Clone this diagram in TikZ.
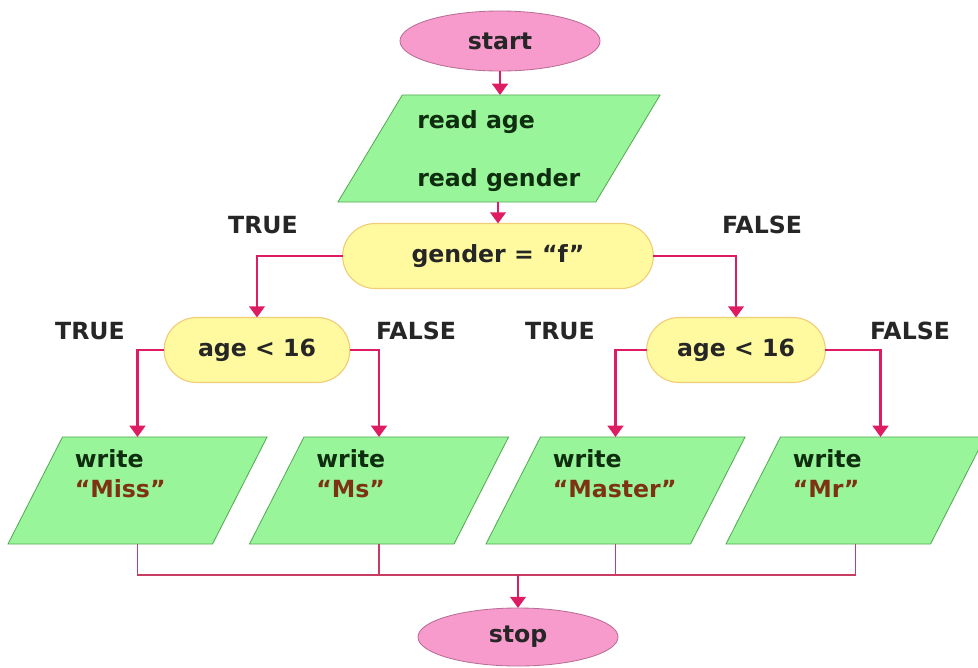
\documentclass[tikz,border=0pt]{standalone}
\usepackage{fontspec}
\setmainfont{DejaVu Sans}
\usetikzlibrary{arrows.meta,shapes.geometric,shapes.misc}

\definecolor{termfill}{RGB}{247,154,204}
\definecolor{termdraw}{RGB}{185,110,150}
\definecolor{iofill}{RGB}{153,245,153}
\definecolor{iodraw}{RGB}{85,170,85}
\definecolor{decfill}{RGB}{255,250,160}
\definecolor{decdraw}{RGB}{240,205,120}
\definecolor{flowcol}{RGB}{222,28,100}
\definecolor{joincol}{RGB}{200,60,100}
\definecolor{iotext}{RGB}{15,45,15}
\definecolor{strtext}{RGB}{125,50,20}

\tikzset{
  fc/.style={font=\fontsize{16.8}{21}\selectfont\bfseries},
  terminal/.style={ellipse,draw=termdraw,fill=termfill,line width=0.6pt,
    minimum width=5cm,minimum height=1.5cm,outer sep=0pt,fc,text=black!85},
  iobox/.style={trapezium,trapezium left angle=63,trapezium right angle=117,
    trapezium stretches body,draw=iodraw,fill=iofill,line width=0.6pt,
    inner ysep=1.3375cm,minimum width=6.475cm,outer sep=0pt},
  decision/.style={rounded rectangle,draw=decdraw,fill=decfill,line width=0.8pt,
    minimum height=1.625cm,outer sep=0pt,fc,text=black!85},
  iotxt/.style={anchor=north west,inner sep=0pt,align=left,fc,text=iotext},
  lbl/.style={fc,text=black!85},
  flow/.style={draw=flowcol,line width=2pt,-{Triangle[width=11pt,length=8pt]}},
  mergeline/.style={draw=joincol,line width=1pt},
}

\begin{document}
\begin{tikzpicture}[x=0.025cm,y=-0.025cm]
  \useasboundingbox (0,0) rectangle (978,667);

  \node[terminal] (start) at (500,41) {start};
  \node[iobox,trapezium left angle=59,trapezium right angle=121,
    minimum width=8.05cm] (read) at (499,148.5) {};
  \node[iotxt] (readTxt) at ([shift={(-82,-38)}]read.center) {read age\\[20pt]read gender};

  \node[decision,minimum width=8cm] (gender) at (498,256) {gender = “f”};
  \node[decision,minimum width=4.875cm] (ageL) at (257,350) {age < 16};
  \node[decision,minimum width=4.7cm] (ageR) at (736,350) {age < 16};

  \node[lbl] (gTrue) at (263,225) {TRUE};
  \node[lbl] (gFalse) at (762,225) {FALSE};
  \node[lbl] (lTrue) at (90,331) {TRUE};
  \node[lbl] (lFalse) at (416,331) {FALSE};
  \node[lbl] (rTrue) at (560,331) {TRUE};
  \node[lbl] (rFalse) at (910,331) {FALSE};

  \node[iobox] (miss) at (137.5,490.5) {};
  \node[iobox] (ms) at (379,490.5) {};
  \node[iobox] (master) at (615.5,490.5) {};
  \node[iobox] (mr) at (855.5,490.5) {};
  \node[iotxt] (missTxt) at ([shift={(-63,-41)}]miss.center) {write\\\textcolor{strtext}{“Miss”}};
  \node[iotxt] (msTxt) at ([shift={(-63,-41)}]ms.center) {write\\\textcolor{strtext}{“Ms”}};
  \node[iotxt] (masterTxt) at ([shift={(-63,-41)}]master.center) {write\\\textcolor{strtext}{“Master”}};
  \node[iotxt] (mrTxt) at ([shift={(-63,-41)}]mr.center) {write\\\textcolor{strtext}{“Mr”}};

  \node[terminal,minimum height=1.45cm] (stop) at (518,637) {stop};
  \coordinate (merge) at (518,575);

  \draw[flow] (start) -- (read.north -| start.south);
  \draw[flow] (read.south -| gender.north) -- (gender.north);
  \draw[flow] (gender.west) -| (ageL.north);
  \draw[flow] (gender.east) -| (ageR.north);
  \draw[flow] (ageL.west) -| (miss.north);
  \draw[flow] (ageL.east) -| (ms.north);
  \draw[flow] (ageR.west) -| (master.north);
  \draw[flow] (ageR.east) -| ([xshift=0.625cm]mr.north);

  \draw[mergeline] (miss.south) |- (merge);
  \draw[mergeline] (ms.south) |- (merge);
  \draw[mergeline] (master.south) |- (merge);
  \draw[mergeline] (mr.south) |- (merge);
  \draw[flow] (merge) -- (stop.north);
\end{tikzpicture}
\end{document}
